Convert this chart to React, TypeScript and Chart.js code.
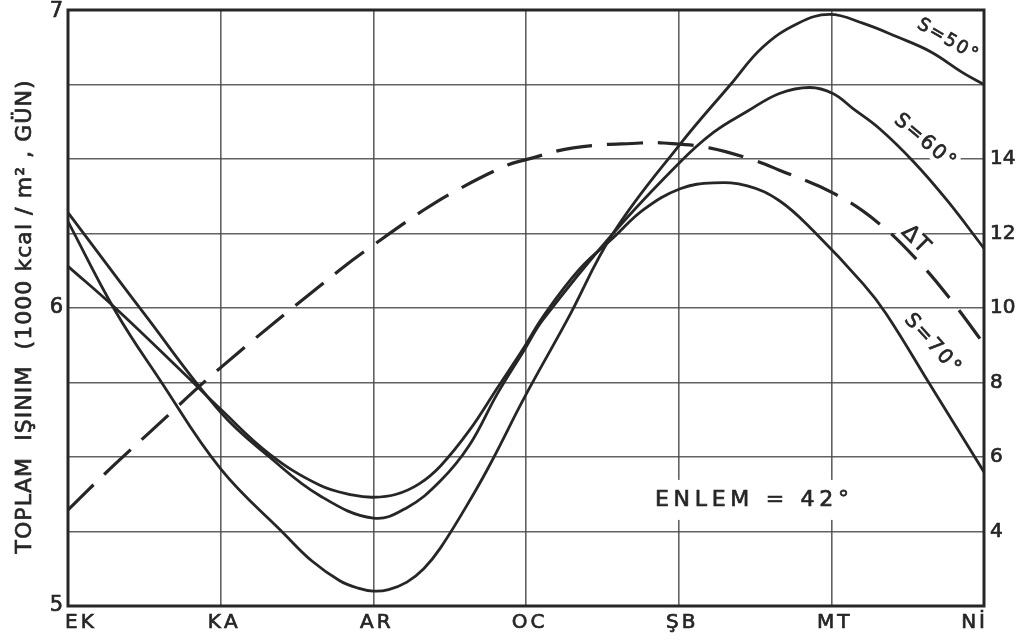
import React, { useEffect, useRef } from 'react';
import { Chart, registerables } from 'chart.js';

Chart.register(...registerables);

// ---------- data ----------
const MONTHS = ['EK', 'KA', 'AR', 'OC', 'ŞB', 'MT', 'Nİ'];
const LEFT_TICKS = [5, 6, 7];
const RIGHT_TICKS = [4, 6, 8, 10, 12, 14];

const S50_X = [0, 0.31, 0.6, 1.0, 1.42, 1.6, 1.78, 1.9, 2.0, 2.1, 2.22, 2.33, 2.44, 2.65, 2.78, 2.99, 3.27, 3.57, 4.01, 4.34, 4.55, 4.78, 4.99, 5.21, 5.43, 5.65, 5.86, 6.0];
const S50_Y = [6.29, 5.99, 5.76, 5.46, 5.24, 5.15, 5.085, 5.06, 5.05, 5.055, 5.08, 5.125, 5.195, 5.37, 5.49, 5.7, 5.96, 6.25, 6.55, 6.75, 6.875, 6.955, 6.985, 6.955, 6.91, 6.86, 6.79, 6.75];

const S60_X = [0, 0.5, 1.0, 1.32, 1.65, 2.0, 2.22, 2.44, 2.63, 2.81, 2.99, 3.11, 3.57, 4.01, 4.23, 4.45, 4.66, 4.86, 5.01, 5.14, 5.32, 5.54, 5.76, 6.0];
const S60_Y = [6.32, 5.98, 5.65, 5.5, 5.37, 5.295, 5.33, 5.42, 5.54, 5.71, 5.86, 5.96, 6.25, 6.49, 6.59, 6.66, 6.72, 6.74, 6.72, 6.67, 6.6, 6.49, 6.36, 6.2];

const S70_X = [0, 0.31, 0.78, 1.0, 1.32, 1.65, 1.87, 2.0, 2.15, 2.3, 2.44, 2.63, 2.81, 2.99, 3.11, 3.35, 3.57, 3.77, 4.01, 4.23, 4.45, 4.66, 4.88, 5.21, 5.36, 5.65, 6.0];
const S70_Y = [6.14, 6.0, 5.77, 5.66, 5.51, 5.405, 5.372, 5.365, 5.375, 5.41, 5.47, 5.59, 5.73, 5.87, 5.97, 6.13, 6.235, 6.33, 6.4, 6.42, 6.41, 6.36, 6.26, 6.08, 5.98, 5.74, 5.45];

const DT_X = [0, 0.28, 0.54, 1.0, 1.78, 2.0, 2.33, 2.55, 2.88, 2.99, 3.31, 3.75, 3.9, 4.2, 4.49, 4.66, 5.01, 5.3, 5.58, 5.8, 6.0];
const DT_Y = [4.58, 5.7, 6.68, 8.4, 11.02, 11.69, 12.63, 13.17, 13.84, 13.97, 14.3, 14.43, 14.43, 14.3, 13.97, 13.7, 13.09, 12.31, 11.21, 10.13, 9.03];

const Y_TITLE = 'TOPLAM  IŞINIM  (1000 kcal / m² , GÜN)';
const NOTE = 'ENLEM = 42°';

// ---------- styling ----------
const INK = '#262626';
const GRID = 'rgba(70,70,70,0.85)';
const FONT = '"DejaVu Sans", "Liberation Sans", sans-serif';

const CURVE_LABELS = [
  { text: 'S=50°', x: 5.76, y: 6.9, angle: 30, size: 18, spacing: 2, mask: false },
  { text: 'S=60°', x: 5.61, y: 6.56, angle: 40, size: 20, spacing: 2, mask: true },
  { text: 'ΔT', x: 5.55, y: 6.23, angle: 45, size: 22, spacing: 1, mask: true },
  { text: 'S=70°', x: 5.66, y: 5.88, angle: 48, size: 20, spacing: 2, mask: false },
];
const NOTE_POS = { x: 4.48, y: 5.356, size: 22, width: 194 };

function pts(xs: number[], ys: number[]) {
  return xs.map((x, i) => ({ x, y: ys[i] }));
}

function layoutChars(ctx: CanvasRenderingContext2D, text: string, font: string, spacing: number | null, target?: number) {
  ctx.font = font;
  const chars = Array.from(text);
  const widths = chars.map((c) => ctx.measureText(c).width);
  const sum = widths.reduce((a, b) => a + b, 0);
  let sp = spacing == null ? 0 : spacing;
  if (target != null && chars.length > 1) sp = (target - sum) / (chars.length - 1);
  const total = sum + sp * (chars.length - 1);
  return { chars, widths, sp, total };
}

function drawSpaced(
  ctx: CanvasRenderingContext2D,
  text: string,
  cx: number,
  cy: number,
  angleDeg: number,
  size: number,
  spacing: number | null,
  opts: { target?: number; align?: 'center' | 'left' | 'right'; maskPad?: [number, number]; maskOnly?: boolean } = {}
) {
  const font = `${size}px ${FONT}`;
  ctx.save();
  const { chars, widths, sp, total } = layoutChars(ctx, text, font, spacing, opts.target);
  ctx.translate(cx, cy);
  ctx.rotate((angleDeg * Math.PI) / 180);
  let x0 = -total / 2;
  if (opts.align === 'left') x0 = 0;
  if (opts.align === 'right') x0 = -total;
  if (opts.maskOnly) {
    const [px, py] = opts.maskPad || [3, size * 0.6];
    ctx.fillStyle = '#ffffff';
    ctx.fillRect(x0 - px, -py, total + 2 * px, 2 * py);
  } else {
    ctx.fillStyle = INK;
    ctx.strokeStyle = INK;
    ctx.lineWidth = 0.7;
    ctx.textBaseline = 'middle';
    ctx.textAlign = 'left';
    ctx.font = font;
    let x = x0;
    chars.forEach((c, i) => {
      ctx.fillText(c, x, 0);
      ctx.strokeText(c, x, 0);
      x += widths[i] + sp;
    });
  }
  ctx.restore();
}

const decor = {
  id: 'decor',
  beforeDatasetsDraw(chart: any) {
    const { ctx, chartArea: a, scales } = chart;
    const sx = scales.x;
    const sy = scales.y;
    CURVE_LABELS.forEach((l) => {
      if (!l.mask) return;
      drawSpaced(ctx, l.text, sx.getPixelForValue(l.x), sy.getPixelForValue(l.y), l.angle, l.size, l.spacing, {
        maskOnly: true,
        maskPad: [3, l.size * 0.5],
      });
    });
    drawSpaced(ctx, NOTE, sx.getPixelForValue(NOTE_POS.x), sy.getPixelForValue(NOTE_POS.y), 0, NOTE_POS.size, null, {
      target: NOTE_POS.width,
      maskOnly: true,
      maskPad: [8, 20],
    });
    ctx.save();
    ctx.strokeStyle = INK;
    ctx.lineWidth = 3;
    ctx.strokeRect(a.left, a.top, a.right - a.left, a.bottom - a.top);
    ctx.restore();
  },
  afterDatasetsDraw(chart: any) {
    const { ctx, chartArea: a, scales } = chart;
    const sx = scales.x;
    const sy = scales.y;
    const sy2 = scales.y2;
    CURVE_LABELS.forEach((l) => {
      drawSpaced(ctx, l.text, sx.getPixelForValue(l.x), sy.getPixelForValue(l.y), l.angle, l.size, l.spacing);
    });
    drawSpaced(ctx, NOTE, sx.getPixelForValue(NOTE_POS.x), sy.getPixelForValue(NOTE_POS.y), 0, NOTE_POS.size, null, {
      target: NOTE_POS.width,
    });
    LEFT_TICKS.forEach((v) => {
      drawSpaced(ctx, String(v), a.left - 5, sy.getPixelForValue(v) + (v === 7 ? 2 : 0), 0, 21, 0, { align: 'right' });
    });
    RIGHT_TICKS.forEach((v) => {
      drawSpaced(ctx, String(v), a.right + 6, sy2.getPixelForValue(v), 0, 20, 0, { align: 'left' });
    });
    MONTHS.forEach((m, i) => {
      const px = sx.getPixelForValue(i);
      const y = a.bottom + 17;
      if (i === 0) drawSpaced(ctx, m, px - 3, y, 0, 20, 3, { align: 'left' });
      else if (i === MONTHS.length - 1) drawSpaced(ctx, m, px + 1, y, 0, 20, 3, { align: 'right' });
      else drawSpaced(ctx, m, px + 2, y, 0, 20, 3);
    });
    drawSpaced(ctx, Y_TITLE, 25, 317, -90, 22, null, { target: 473 });
  },
};

export default function App() {
  const ref = useRef<HTMLCanvasElement | null>(null);

  useEffect(() => {
    if (!ref.current) return;
    const line = (data: any[], axis: string, dashed: boolean) => ({
      data,
      yAxisID: axis,
      borderColor: INK,
      borderWidth: dashed ? 3.2 : 2.8,
      borderDash: dashed ? [36, 15] : [],
      pointRadius: 0,
      fill: false,
      tension: 0.4,
      borderCapStyle: 'butt' as const,
    });
    const chart = new Chart(ref.current, {
      type: 'line',
      data: {
        datasets: [
          line(pts(S50_X, S50_Y), 'y', false),
          line(pts(S60_X, S60_Y), 'y', false),
          line(pts(S70_X, S70_Y), 'y', false),
          line(pts(DT_X, DT_Y), 'y2', true),
        ],
      },
      options: {
        responsive: false,
        animation: false,
        layout: { padding: { top: 10, left: 0, right: 0, bottom: 0 } },
        plugins: { legend: { display: false }, tooltip: { enabled: false }, title: { display: false } },
        scales: {
          x: {
            type: 'linear',
            min: 0,
            max: 6,
            ticks: { display: false, stepSize: 1 },
            grid: { color: GRID, lineWidth: 1.6, drawTicks: false },
            border: { display: false },
            afterFit: (s: any) => {
              s.height = 37;
            },
          },
          y: {
            type: 'linear',
            position: 'left',
            min: 5,
            max: 7,
            ticks: { display: false, stepSize: 0.25 },
            grid: { color: GRID, lineWidth: 1.6, drawTicks: false },
            border: { display: false },
            afterFit: (s: any) => {
              s.width = 68;
            },
          },
          y2: {
            type: 'linear',
            position: 'right',
            min: 2,
            max: 18,
            ticks: { display: false, stepSize: 2 },
            grid: { display: false, drawTicks: false },
            border: { display: false },
            afterFit: (s: any) => {
              s.width = 36;
            },
          },
        },
      } as any,
      plugins: [decor],
    });
    return () => chart.destroy();
  }, []);

  return (
    <div style={{ position: 'absolute', left: 0, top: 0, width: 1020, height: 643, background: '#fff' }}>
      <canvas ref={ref} width={1020} height={643} style={{ display: 'block' }} />
    </div>
  );
}
